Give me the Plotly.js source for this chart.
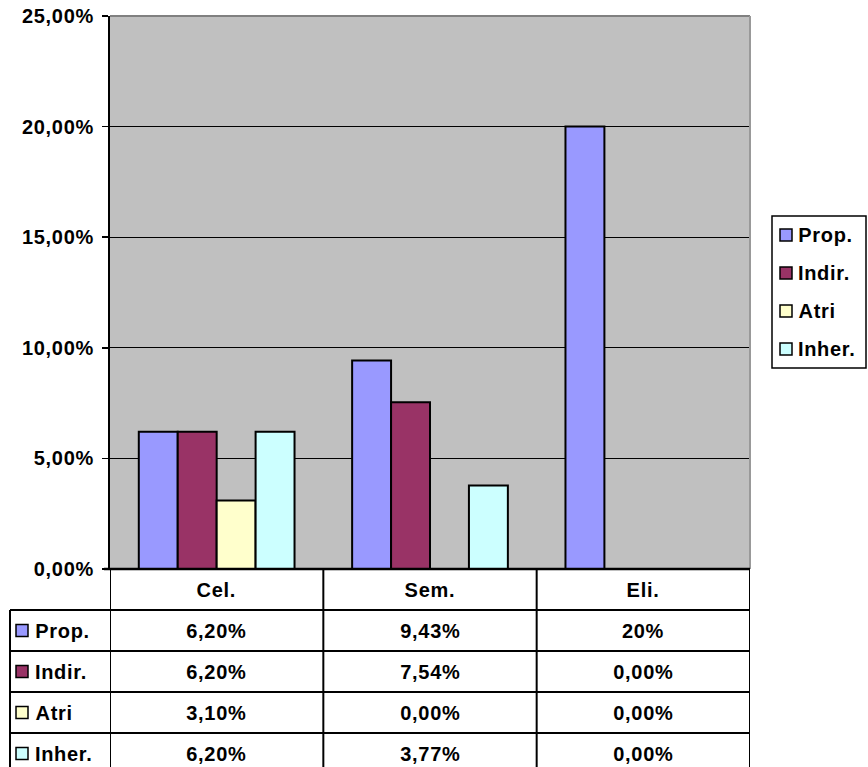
<!DOCTYPE html>
<html>
<head>
<meta charset="utf-8">
<script src="https://cdn.plot.ly/plotly-3.0.1.min.js"></script>
<style>
  html, body { margin: 0; padding: 0; background: #ffffff; }
  #chart { width: 868px; height: 767px; }
  #chart svg text { letter-spacing: 0.7px; }
</style>
</head>
<body>
<div id="chart"></div>
<script>
// ---- Data ----
const categories = ['Cel.', 'Sem.', 'Eli.'];
const seriesNames = ['Prop.', 'Indir.', 'Atri', 'Inher.'];
const propValues = [6.20, 9.43, 20.00];
const indirValues = [6.20, 7.54, 0.00];
const atriValues = [3.10, 0.00, 0.00];
const inherValues = [6.20, 3.77, 0.00];
const propLabels = ['6,20%', '9,43%', '20%'];
const indirLabels = ['6,20%', '7,54%', '0,00%'];
const atriLabels = ['3,10%', '0,00%', '0,00%'];
const inherLabels = ['6,20%', '3,77%', '0,00%'];
const yTickValues = [0, 5, 10, 15, 20, 25];
const yTickLabels = ['0,00%', '5,00%', '10,00%', '15,00%', '20,00%', '25,00%'];

// ---- Styling ----
const seriesValues = [propValues, indirValues, atriValues, inherValues];
const seriesLabels = [propLabels, indirLabels, atriLabels, inherLabels];
const seriesColors = ['#9999FF', '#993366', '#FFFFCC', '#CCFFFF'];
const FONT = 'Liberation Sans, Arial, Helvetica, sans-serif';
const W = 868, H = 767;
const M = { l: 110, r: 118, t: 16, b: 198 };
const PW = W - M.l - M.r, PH = H - M.t - M.b;
const X = px => (px - M.l) / PW;          // pixel -> paper x
const Y = py => (H - M.b - py) / PH;      // pixel -> paper y

const traces = seriesNames.map((name, i) => ({
  type: 'bar',
  name: name,
  x: categories,
  y: seriesValues[i],
  marker: { color: seriesColors[i], line: { color: '#000000', width: 2 } },
  showlegend: false,
  hoverinfo: 'skip'
}));

const shapes = [];
const annotations = [];
const black = { color: '#000000', width: 2 };

// plot area top/right borders (grey)
shapes.push({ type: 'line', xref: 'paper', yref: 'paper', x0: 0, x1: 1, y0: 1, y1: 1,
  line: { color: '#808080', width: 2 }, layer: 'above' });
shapes.push({ type: 'line', xref: 'paper', yref: 'paper', x0: 1, x1: 1, y0: 0, y1: 1,
  line: { color: '#999999', width: 2 }, layer: 'above' });

// data table geometry
const headerTop = 569;
const rowH = 41;
const rowTops = [headerTop, headerTop + rowH, headerTop + 2 * rowH, headerTop + 3 * rowH, headerTop + 4 * rowH];
const labelColLeft = 10;

// table top line (category area)
shapes.push({ type: 'line', xref: 'paper', yref: 'paper', x0: X(104), x1: 1, y0: 0, y1: 0,
  line: { color: '#000000', width: 2.5 }, layer: 'above' });
// row lines spanning label column
for (let r = 1; r <= 4; r++) {
  shapes.push({ type: 'line', xref: 'paper', yref: 'paper', x0: X(labelColLeft), x1: 1,
    y0: Y(rowTops[r]), y1: Y(rowTops[r]), line: black });
}
// label column left border
shapes.push({ type: 'line', xref: 'paper', yref: 'paper', x0: X(labelColLeft), x1: X(labelColLeft),
  y0: Y(rowTops[1]), y1: Y(H + 5), line: black });
// category boundaries
for (let i = 0; i <= categories.length; i++) {
  shapes.push({ type: 'line', xref: 'x', yref: 'paper', x0: i - 0.5, x1: i - 0.5,
    y0: 0, y1: Y(H + 5), line: black });
}

const txtFont = { family: FONT, size: 20, color: '#000000', weight: 'bold' };
// header row
categories.forEach((c, i) => {
  annotations.push({ xref: 'x', yref: 'paper', x: i, y: Y(headerTop + rowH / 2),
    text: c, showarrow: false, xanchor: 'center', yanchor: 'middle', font: txtFont });
});
// value rows
seriesNames.forEach((name, s) => {
  const cy = rowTops[s + 1] + rowH / 2;
  seriesLabels[s].forEach((lab, i) => {
    annotations.push({ xref: 'x', yref: 'paper', x: i, y: Y(cy),
      text: lab, showarrow: false, xanchor: 'center', yanchor: 'middle', font: txtFont });
  });
  // row label key + name
  shapes.push({ type: 'rect', xref: 'paper', yref: 'paper',
    x0: X(16), x1: X(28), y0: Y(cy - 6), y1: Y(cy + 6),
    fillcolor: seriesColors[s], line: { color: '#000000', width: 1.5 } });
  annotations.push({ xref: 'paper', yref: 'paper', x: X(35), y: Y(cy),
    text: name, showarrow: false, xanchor: 'left', yanchor: 'middle', font: txtFont });
});

// legend (drawn manually)
const legL = 772, legR = 866, legT = 216, legB = 368;
shapes.push({ type: 'rect', xref: 'paper', yref: 'paper', x0: X(legL), x1: X(legR), y0: Y(legB), y1: Y(legT),
  line: { color: '#000000', width: 1.5 }, fillcolor: 'rgba(255,255,255,0)' });
const legStep = (legB - legT) / seriesNames.length;
seriesNames.forEach((name, s) => {
  const cy = legT + legStep * (s + 0.5);
  shapes.push({ type: 'rect', xref: 'paper', yref: 'paper',
    x0: X(780), x1: X(792), y0: Y(cy - 6), y1: Y(cy + 6),
    fillcolor: seriesColors[s], line: { color: '#000000', width: 1.5 } });
  annotations.push({ xref: 'paper', yref: 'paper', x: X(798), y: Y(cy),
    text: name, showarrow: false, xanchor: 'left', yanchor: 'middle', font: txtFont });
});

const layout = {
  width: W, height: H,
  margin: M,
  paper_bgcolor: '#ffffff',
  plot_bgcolor: '#C0C0C0',
  barmode: 'group',
  bargap: 0.27,
  bargroupgap: 0,
  showlegend: false,
  xaxis: {
    type: 'category', range: [-0.5, 2.5], showticklabels: false, ticks: '',
    showgrid: false, showline: false, zeroline: false, fixedrange: true
  },
  yaxis: {
    range: [0, 25], tickvals: yTickValues, ticktext: yTickLabels,
    ticks: 'outside', ticklen: 6, tickwidth: 1.5, tickcolor: '#000000',
    ticklabelstandoff: 4,
    showline: true, linecolor: '#000000', linewidth: 2,
    showgrid: true, gridcolor: '#000000', gridwidth: 1.3,
    zeroline: false, fixedrange: true,
    tickfont: { family: FONT, size: 20, color: '#000000', weight: 'bold' }
  },
  shapes: shapes,
  annotations: annotations
};

Plotly.newPlot('chart', traces, layout, { displayModeBar: false, staticPlot: true });
</script>
</body>
</html>
